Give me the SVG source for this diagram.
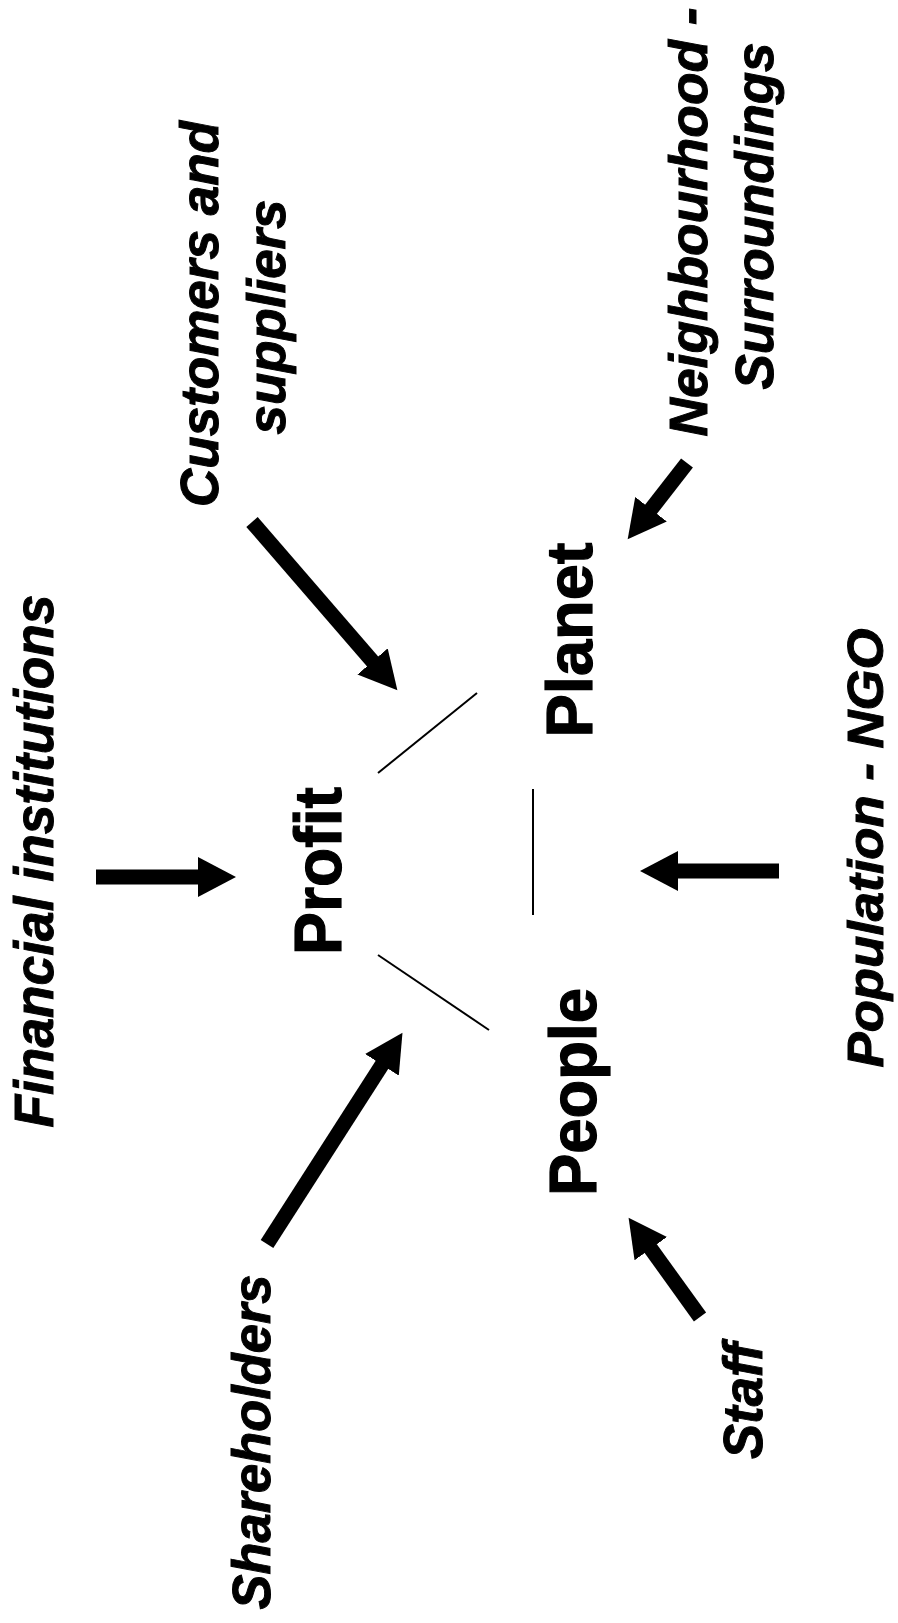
<svg xmlns="http://www.w3.org/2000/svg" width="898" height="1623" viewBox="0 0 898 1623">
  <style>
    .lbl { font-family: "Liberation Sans", Arial, sans-serif; font-weight: bold; font-style: italic; fill: #000; stroke: #000; stroke-width: 1; text-anchor: middle; }
    .core { font-family: "Liberation Sans", Arial, sans-serif; font-weight: bold; fill: #000; stroke: #000; stroke-width: 1.2; text-anchor: middle; }
    .arrow { stroke: #000; stroke-width: 15; stroke-linecap: butt; fill: none; marker-end: url(#head); }
    .thin { stroke: #000; stroke-width: 2; fill: none; }
  </style>
  <defs>
    <marker id="head" markerUnits="userSpaceOnUse" markerWidth="39" markerHeight="40" refX="1" refY="20" orient="auto">
      <path d="M0,0 L38,20 L0,40 Z" fill="#000"/>
    </marker>
  </defs>
  <rect width="898" height="1623" fill="#fff"/>

  <g id="profit"><text class="core" font-size="66" textLength="168" lengthAdjust="spacingAndGlyphs" transform="translate(341,871) rotate(-90)">Profit</text></g>
  <g id="planet"><text class="core" font-size="65" textLength="195" lengthAdjust="spacingAndGlyphs" transform="translate(592,640) rotate(-90)">Planet</text></g>
  <g id="people"><text class="core" font-size="66" textLength="208" lengthAdjust="spacingAndGlyphs" transform="translate(596,1092) rotate(-90)">People</text></g>

  <g id="financial"><text class="lbl" font-size="55" textLength="533" lengthAdjust="spacingAndGlyphs" transform="translate(53,861) rotate(-90)">Financial institutions</text></g>
  <g id="customers">
    <text class="lbl" font-size="53" textLength="386" lengthAdjust="spacingAndGlyphs" transform="translate(218,314) rotate(-90)">Customers and</text>
    <text class="lbl" font-size="53" textLength="235" lengthAdjust="spacingAndGlyphs" transform="translate(285,317) rotate(-90)">suppliers</text>
  </g>
  <g id="neighbourhood">
    <text class="lbl" font-size="53" textLength="429" lengthAdjust="spacingAndGlyphs" transform="translate(707,222) rotate(-90)">Neighbourhood -</text>
    <text class="lbl" font-size="53" textLength="347" lengthAdjust="spacingAndGlyphs" transform="translate(773,216) rotate(-90)">Surroundings</text>
  </g>
  <g id="population"><text class="lbl" font-size="50" textLength="439" lengthAdjust="spacingAndGlyphs" transform="translate(883,848) rotate(-90)">Population - NGO</text></g>
  <g id="staff"><text class="lbl" font-size="56" textLength="116" lengthAdjust="spacingAndGlyphs" transform="translate(762,1401) rotate(-90)">Staff</text></g>
  <g id="shareholders"><text class="lbl" font-size="54" textLength="335" lengthAdjust="spacingAndGlyphs" transform="translate(270,1442) rotate(-90)">Shareholders</text></g>

  <g id="connectors">
    <line class="arrow" x1="96" y1="877" x2="199" y2="877"/>
    <line class="arrow" x1="252" y1="522" x2="373.2" y2="662.2"/>
    <line class="arrow" x1="687" y1="463" x2="650.4" y2="510"/>
    <line class="arrow" x1="779" y1="871" x2="677" y2="871"/>
    <line class="arrow" x1="267" y1="1244" x2="382.5" y2="1064"/>
    <line class="arrow" x1="700" y1="1317" x2="650.2" y2="1247.8"/>
    <line class="thin" x1="378" y1="773" x2="477" y2="693"/>
    <line class="thin" x1="378" y1="955" x2="489" y2="1030"/>
    <line class="thin" x1="533" y1="789" x2="533" y2="915"/>
  </g>
</svg>
